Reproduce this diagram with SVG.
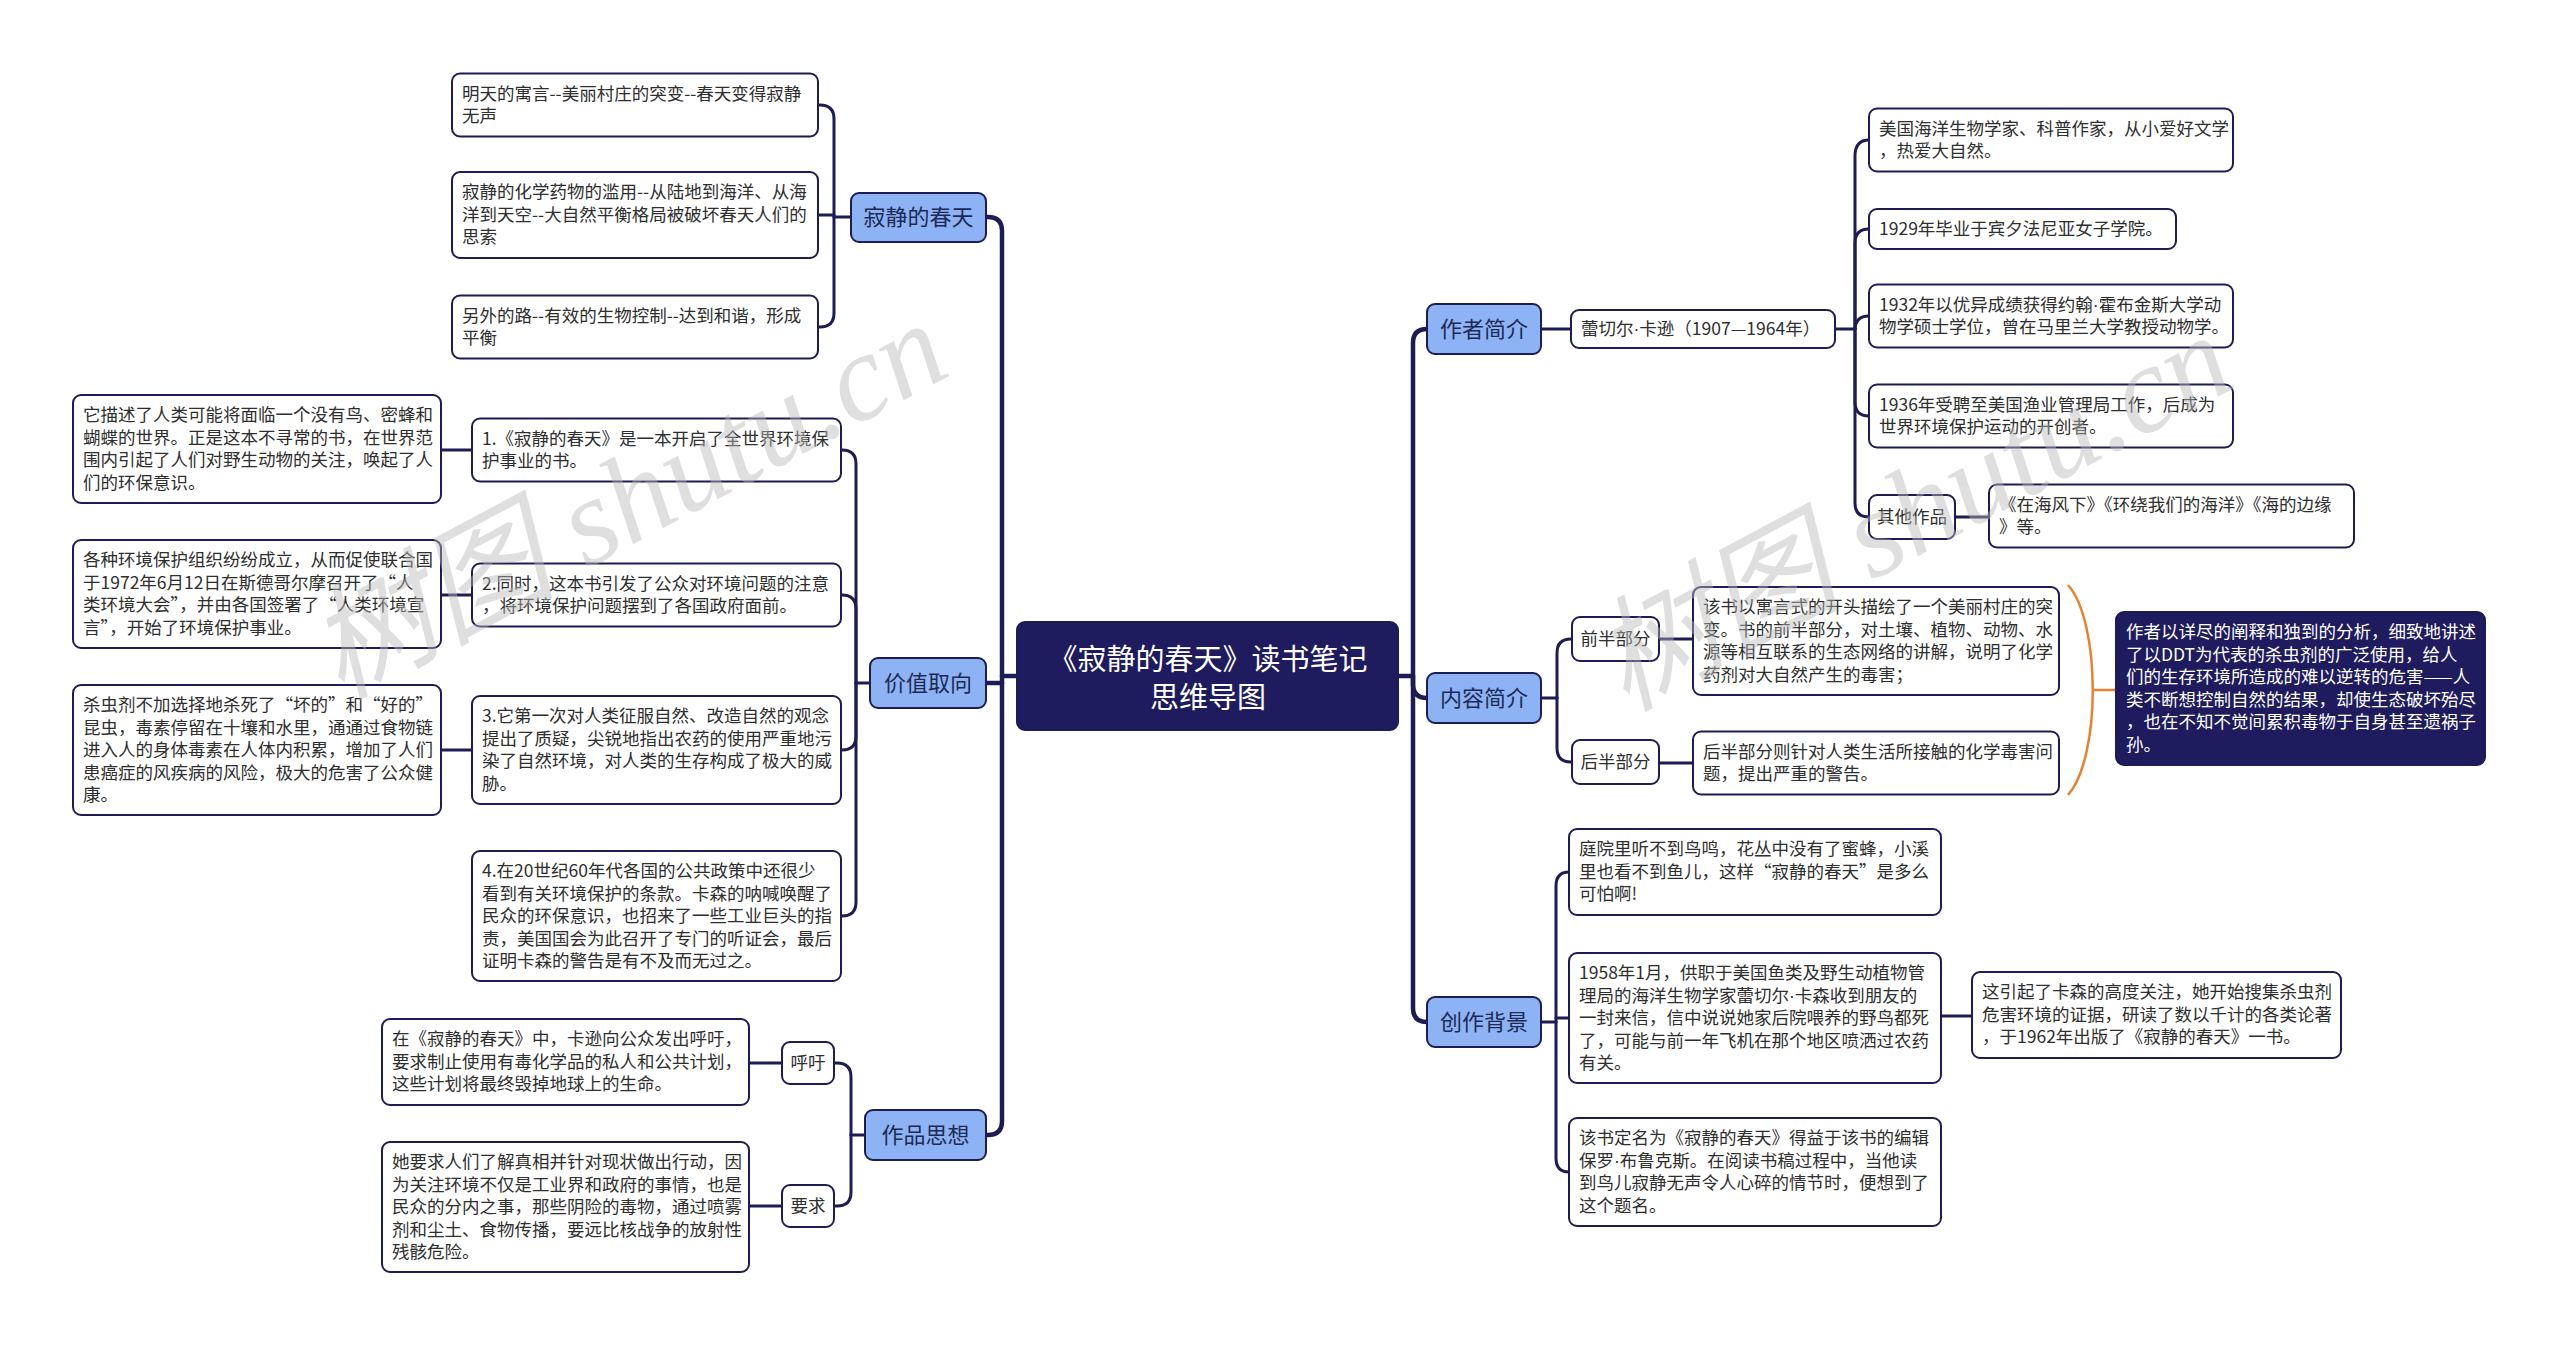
<svg xmlns="http://www.w3.org/2000/svg" width="2560" height="1347" viewBox="0 0 2560 1347">
<style>
.bg{fill:#ffffff}
.leaf{fill:#ffffff;stroke:#1e1c55;stroke-width:2}
.main{fill:#8db3f4;stroke:#1e1c55;stroke-width:2}
.dark{fill:#1e1b5e;stroke:#1e1c55;stroke-width:2}
.t{font-family:"Noto Sans CJK SC","Liberation Sans",sans-serif;font-size:17.5px;fill:#2e2e2e}
.tw{font-family:"Noto Sans CJK SC","Liberation Sans",sans-serif;font-size:17.5px;fill:#ffffff}
.m{font-family:"Noto Sans CJK SC","Liberation Sans",sans-serif;font-size:22px;fill:#1e2a55;text-anchor:middle}
.c{font-family:"Noto Sans CJK SC","Liberation Sans",sans-serif;font-size:29px;fill:#ffffff;text-anchor:middle}
.mid{text-anchor:middle}
.dot{font-family:"Liberation Sans",sans-serif}
.spine{fill:none;stroke:#1e1c55;stroke-width:4.5;stroke-linecap:round}
.link{fill:none;stroke:#1e1c55;stroke-width:3;stroke-linecap:round}
.brace{fill:none;stroke:#e8812f;stroke-width:2.5}
.wm{font-family:"Liberation Serif","Noto Sans CJK SC",serif;font-style:italic;font-size:124px;fill:#b8b8b8;fill-opacity:0.45}
</style>
<rect class="bg" x="0" y="0" width="2560" height="1347"/>

<g id="connectors">
  <path class="spine" d="M1017,676 H1002"/>
  <path class="spine" d="M1002,683 V231 Q1002,217 988,217 H986"/>
  <path class="spine" d="M1002,683 V1121 Q1002,1135 988,1135 H986"/>
  <path class="spine" d="M1002,683 H986"/>
  <path class="spine" d="M1398,676 H1413"/>
  <path class="spine" d="M1413,676 V343 Q1413,329 1427,329"/>
  <path class="spine" d="M1413,676 V1008 Q1413,1022 1427,1022"/>
  <path class="spine" d="M1413,676 V684 Q1413,698 1427,698"/>
  <path class="link" d="M851,217 H834"/>
  <path class="link" d="M834,217 V119 Q834,105 820,105 H818"/>
  <path class="link" d="M834,217 V313 Q834,327 820,327 H818"/>
  <path class="link" d="M834,215 H818"/>
  <path class="link" d="M870,683 H856"/>
  <path class="link" d="M856,683 V464 Q856,450 842,450 H841"/>
  <path class="link" d="M856,683 V609 Q856,595 842,595 H841"/>
  <path class="link" d="M856,683 V736 Q856,750 842,750 H841"/>
  <path class="link" d="M856,683 V902 Q856,916 842,916 H841"/>
  <path class="link" d="M472,450 H441"/>
  <path class="link" d="M472,595 H441"/>
  <path class="link" d="M472,750 H441"/>
  <path class="link" d="M865,1135 H851"/>
  <path class="link" d="M851,1135 V1077 Q851,1063 837,1063 H834"/>
  <path class="link" d="M851,1135 V1192 Q851,1206 837,1206 H834"/>
  <path class="link" d="M782,1063 H749"/>
  <path class="link" d="M782,1206 H749"/>
  <path class="link" d="M1541,329 H1571"/>
  <path class="link" d="M1835,329 H1855"/>
  <path class="link" d="M1855,329 V156 Q1855,140 1869,140"/>
  <path class="link" d="M1855,329 V243 Q1855,229 1869,229"/>
  <path class="link" d="M1855,329 V330 Q1855,316 1869,316"/>
  <path class="link" d="M1855,329 V402 Q1855,416 1869,416"/>
  <path class="link" d="M1855,329 V503 Q1855,517 1869,517"/>
  <path class="link" d="M1955,517 H1989"/>
  <path class="link" d="M1541,698 H1557"/>
  <path class="link" d="M1557,698 V653 Q1557,639 1571,639 H1572"/>
  <path class="link" d="M1557,698 V748 Q1557,762 1571,762 H1572"/>
  <path class="link" d="M1659,639 H1693"/>
  <path class="link" d="M1659,763 H1693"/>
  <path class="brace" d="M2068,585 C2101,622 2101,758 2068,795"/>
  <path class="brace" d="M2093,690 H2116"/>
  <path class="link" d="M1541,1022 H1556"/>
  <path class="link" d="M1556,1022 V886 Q1556,872 1569,872"/>
  <path class="link" d="M1556,1018 H1569"/>
  <path class="link" d="M1556,1022 V1158 Q1556,1172 1569,1172"/>
  <path class="link" d="M1941,1016 H1972"/>
</g>

<g id="center">
  <rect class="dark" x="1017" y="622" width="381" height="108" rx="8"/>
  <text class="c" x="1208" y="670">《寂静的春天》读书笔记</text>
  <text class="c" x="1208" y="708">思维导图</text>
</g>

<g id="n-jijing">
  <rect class="main" x="851" y="193" width="135" height="49" rx="8"/>
  <text class="m" x="918.5" y="225">寂静的春天</text>
</g>
<g id="n-t1">
  <rect class="leaf" x="452" y="73.5" width="366" height="63" rx="8"/>
  <text class="t" x="462" y="99.5">明天的寓言--美丽村庄的突变--春天变得寂静</text>
  <text class="t" x="462" y="122">无声</text>
</g>
<g id="n-t2">
  <rect class="leaf" x="452" y="172" width="366" height="86" rx="8"/>
  <text class="t" x="462" y="198">寂静的化学药物的滥用--从陆地到海洋、从海</text>
  <text class="t" x="462" y="220.5">洋到天空--大自然平衡格局被破坏春天人们的</text>
  <text class="t" x="462" y="243">思索</text>
</g>
<g id="n-t3">
  <rect class="leaf" x="452" y="295.5" width="366" height="63" rx="8"/>
  <text class="t" x="462" y="321.5">另外的路--有效的生物控制--达到和谐，形成</text>
  <text class="t" x="462" y="344">平衡</text>
</g>

<g id="n-jiazhi">
  <rect class="main" x="870" y="658" width="116" height="50" rx="8"/>
  <text class="m" x="928" y="691">价值取向</text>
</g>
<g id="n-i1">
  <rect class="leaf" x="472" y="418.5" width="369" height="63" rx="8"/>
  <text class="t" x="482" y="444.5">1.《寂静的春天》是一本开启了全世界环境保</text>
  <text class="t" x="482" y="467">护事业的书。</text>
</g>
<g id="n-i2">
  <rect class="leaf" x="472" y="563.5" width="369" height="63" rx="8"/>
  <text class="t" x="482" y="589.5">2.同时，这本书引发了公众对环境问题的注意</text>
  <text class="t" x="482" y="612">，将环境保护问题摆到了各国政府面前。</text>
</g>
<g id="n-i3">
  <rect class="leaf" x="472" y="696" width="369" height="108" rx="8"/>
  <text class="t" x="482" y="722">3.它第一次对人类征服自然、改造自然的观念</text>
  <text class="t" x="482" y="744.5">提出了质疑，尖锐地指出农药的使用严重地污</text>
  <text class="t" x="482" y="767">染了自然环境，对人类的生存构成了极大的威</text>
  <text class="t" x="482" y="789.5">胁。</text>
</g>
<g id="n-i4">
  <rect class="leaf" x="472" y="851" width="369" height="130" rx="8"/>
  <text class="t" x="482" y="877">4.在20世纪60年代各国的公共政策中还很少</text>
  <text class="t" x="482" y="899.5">看到有关环境保护的条款。卡森的呐喊唤醒了</text>
  <text class="t" x="482" y="922">民众的环保意识，也招来了一些工业巨头的指</text>
  <text class="t" x="482" y="944.5">责，美国国会为此召开了专门的听证会，最后</text>
  <text class="t" x="482" y="967">证明卡森的警告是有不及而无过之。</text>
</g>
<g id="n-l1">
  <rect class="leaf" x="73" y="395" width="368" height="108" rx="8"/>
  <text class="t" x="83" y="421">它描述了人类可能将面临一个没有鸟、密蜂和</text>
  <text class="t" x="83" y="443.5">蝴蝶的世界。正是这本不寻常的书，在世界范</text>
  <text class="t" x="83" y="466">围内引起了人们对野生动物的关注，唤起了人</text>
  <text class="t" x="83" y="488.5">们的环保意识。</text>
</g>
<g id="n-l2">
  <rect class="leaf" x="73" y="540" width="368" height="108" rx="8"/>
  <text class="t" x="83" y="566">各种环境保护组织纷纷成立，从而促使联合国</text>
  <text class="t" x="83" y="588.5">于1972年6月12日在斯德哥尔摩召开了“人</text>
  <text class="t" x="83" y="611">类环境大会”，并由各国签署了“人类环境宣</text>
  <text class="t" x="83" y="633.5">言”，开始了环境保护事业。</text>
</g>
<g id="n-l3">
  <rect class="leaf" x="73" y="685" width="368" height="130" rx="8"/>
  <text class="t" x="83" y="711">杀虫剂不加选择地杀死了“坏的”和“好的”</text>
  <text class="t" x="83" y="733.5">昆虫，毒素停留在十壤和水里，通通过食物链</text>
  <text class="t" x="83" y="756">进入人的身体毒素在人体内积累，增加了人们</text>
  <text class="t" x="83" y="778.5">患癌症的风疾病的风险，极大的危害了公众健</text>
  <text class="t" x="83" y="801">康。</text>
</g>

<g id="n-zuopin">
  <rect class="main" x="865" y="1110" width="121" height="50" rx="8"/>
  <text class="m" x="925.5" y="1143">作品思想</text>
</g>
<g id="n-huyu">
  <rect class="leaf" x="782" y="1042" width="52" height="42" rx="8"/>
  <text class="t mid" x="808" y="1069">呼吁</text>
</g>
<g id="n-yaoqiu">
  <rect class="leaf" x="782" y="1185" width="52" height="42" rx="8"/>
  <text class="t mid" x="808" y="1212">要求</text>
</g>
<g id="n-h1">
  <rect class="leaf" x="382" y="1019" width="367" height="86" rx="8"/>
  <text class="t" x="392" y="1045">在《寂静的春天》中，卡逊向公众发出呼吁，</text>
  <text class="t" x="392" y="1067.5">要求制止使用有毒化学品的私人和公共计划，</text>
  <text class="t" x="392" y="1090">这些计划将最终毁掉地球上的生命。</text>
</g>
<g id="n-h2">
  <rect class="leaf" x="382" y="1142" width="367" height="130" rx="8"/>
  <text class="t" x="392" y="1168">她要求人们了解真相并针对现状做出行动，因</text>
  <text class="t" x="392" y="1190.5">为关注环境不仅是工业界和政府的事情，也是</text>
  <text class="t" x="392" y="1213">民众的分内之事，那些阴险的毒物，通过喷雾</text>
  <text class="t" x="392" y="1235.5">剂和尘土、食物传播，要远比核战争的放射性</text>
  <text class="t" x="392" y="1258">残骸危险。</text>
</g>

<g id="n-zuozhe">
  <rect class="main" x="1427" y="304" width="114" height="50" rx="8"/>
  <text class="m" x="1484" y="337">作者简介</text>
</g>
<g id="n-carson">
  <rect class="leaf" x="1571" y="310" width="264" height="38" rx="8"/>
  <text class="t" x="1581" y="335">蕾切尔<tspan class="dot">·</tspan>卡逊（1907—1964年）</text>
</g>
<g id="n-r1">
  <rect class="leaf" x="1869" y="108.5" width="364" height="63" rx="8"/>
  <text class="t" x="1879" y="134.5">美国海洋生物学家、科普作家，从小爱好文学</text>
  <text class="t" x="1879" y="157">，热爱大自然。</text>
</g>
<g id="n-r2">
  <rect class="leaf" x="1869" y="209" width="307" height="40" rx="8"/>
  <text class="t" x="1879" y="235">1929年毕业于宾夕法尼亚女子学院。</text>
</g>
<g id="n-r3">
  <rect class="leaf" x="1869" y="284.5" width="364" height="63" rx="8"/>
  <text class="t" x="1879" y="310.5">1932年以优异成绩获得约翰<tspan class="dot">·</tspan>霍布金斯大学动</text>
  <text class="t" x="1879" y="333">物学硕士学位，曾在马里兰大学教授动物学。</text>
</g>
<g id="n-r4">
  <rect class="leaf" x="1869" y="384.5" width="364" height="63" rx="8"/>
  <text class="t" x="1879" y="410.5">1936年受聘至美国渔业管理局工作，后成为</text>
  <text class="t" x="1879" y="433">世界环境保护运动的开创者。</text>
</g>
<g id="n-qita">
  <rect class="leaf" x="1869" y="495" width="86" height="44" rx="8"/>
  <text class="t mid" x="1912" y="523">其他作品</text>
</g>
<g id="n-qita-leaf">
  <rect class="leaf" x="1989" y="484.5" width="365" height="63" rx="8"/>
  <text class="t" x="1999" y="510.5">《在海风下》《环绕我们的海洋》《海的边缘</text>
  <text class="t" x="1999" y="533">》等。</text>
</g>

<g id="n-neirong">
  <rect class="main" x="1427" y="673" width="114" height="50" rx="8"/>
  <text class="m" x="1484" y="706">内容简介</text>
</g>
<g id="n-qianban">
  <rect class="leaf" x="1572" y="617" width="87" height="44" rx="8"/>
  <text class="t mid" x="1615.5" y="645">前半部分</text>
</g>
<g id="n-houban">
  <rect class="leaf" x="1572" y="740" width="87" height="44" rx="8"/>
  <text class="t mid" x="1615.5" y="768">后半部分</text>
</g>
<g id="n-qianban-leaf">
  <rect class="leaf" x="1693" y="587" width="366" height="108" rx="8"/>
  <text class="t" x="1703" y="613">该书以寓言式的开头描绘了一个美丽村庄的突</text>
  <text class="t" x="1703" y="635.5">变。书的前半部分，对土壤、植物、动物、水</text>
  <text class="t" x="1703" y="658">源等相互联系的生态网络的讲解，说明了化学</text>
  <text class="t" x="1703" y="680.5">药剂对大自然产生的毒害；</text>
</g>
<g id="n-houban-leaf">
  <rect class="leaf" x="1693" y="731.5" width="366" height="63" rx="8"/>
  <text class="t" x="1703" y="757.5">后半部分则针对人类生活所接触的化学毒害问</text>
  <text class="t" x="1703" y="780">题，提出严重的警告。</text>
</g>
<g id="n-summary">
  <rect class="dark" x="2116" y="612" width="369" height="153" rx="8"/>
  <text class="tw" x="2126" y="638">作者以详尽的阐释和独到的分析，细致地讲述</text>
  <text class="tw" x="2126" y="660.5">了以DDT为代表的杀虫剂的广泛使用，给人</text>
  <text class="tw" x="2126" y="683">们的生存环境所造成的难以逆转的危害——人</text>
  <text class="tw" x="2126" y="705.5">类不断想控制自然的结果，却使生态破坏殆尽</text>
  <text class="tw" x="2126" y="728">，也在不知不觉间累积毒物于自身甚至遗祸子</text>
  <text class="tw" x="2126" y="750.5">孙。</text>
</g>

<g id="n-chuangzuo">
  <rect class="main" x="1427" y="997" width="114" height="50" rx="8"/>
  <text class="m" x="1484" y="1030">创作背景</text>
</g>
<g id="n-b1">
  <rect class="leaf" x="1569" y="829" width="372" height="86" rx="8"/>
  <text class="t" x="1579" y="855">庭院里听不到鸟鸣，花丛中没有了蜜蜂，小溪</text>
  <text class="t" x="1579" y="877.5">里也看不到鱼儿，这样“寂静的春天”是多么</text>
  <text class="t" x="1579" y="900">可怕啊!</text>
</g>
<g id="n-b2">
  <rect class="leaf" x="1569" y="953" width="372" height="130" rx="8"/>
  <text class="t" x="1579" y="979">1958年1月，供职于美国鱼类及野生动植物管</text>
  <text class="t" x="1579" y="1001.5">理局的海洋生物学家蕾切尔<tspan class="dot">·</tspan>卡森收到朋友的</text>
  <text class="t" x="1579" y="1024">一封来信，信中说说她家后院喂养的野鸟都死</text>
  <text class="t" x="1579" y="1046.5">了，可能与前一年飞机在那个地区喷洒过农药</text>
  <text class="t" x="1579" y="1069">有关。</text>
</g>
<g id="n-b3">
  <rect class="leaf" x="1569" y="1118" width="372" height="108" rx="8"/>
  <text class="t" x="1579" y="1144">该书定名为《寂静的春天》得益于该书的编辑</text>
  <text class="t" x="1579" y="1166.5">保罗<tspan class="dot">·</tspan>布鲁克斯。在阅读书稿过程中，当他读</text>
  <text class="t" x="1579" y="1189">到鸟儿寂静无声令人心碎的情节时，便想到了</text>
  <text class="t" x="1579" y="1211.5">这个题名。</text>
</g>
<g id="n-b2r">
  <rect class="leaf" x="1972" y="972" width="369" height="86" rx="8"/>
  <text class="t" x="1982" y="998">这引起了卡森的高度关注，她开始搜集杀虫剂</text>
  <text class="t" x="1982" y="1020.5">危害环境的证据，研读了数以千计的各类论著</text>
  <text class="t" x="1982" y="1043">，于1962年出版了《寂静的春天》一书。</text>
</g>

<g id="watermarks">
  <text class="wm" x="0" y="0" transform="translate(340,700) rotate(-28)">树图 shutu.cn</text>
  <text class="wm" x="0" y="0" transform="translate(1625,712) rotate(-28)">树图 shutu.cn</text>
</g>
</svg>
